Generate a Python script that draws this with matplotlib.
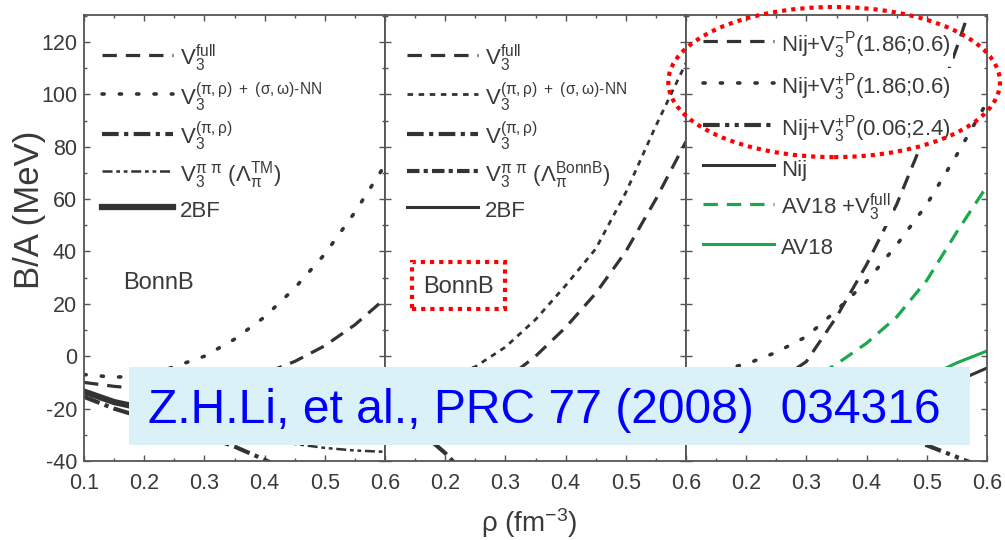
import matplotlib
matplotlib.use('Agg')
import matplotlib.pyplot as plt
from matplotlib.patches import Ellipse, Rectangle
from matplotlib.ticker import MultipleLocator

plt.rcParams['font.family'] = ['Liberation Sans', 'DejaVu Sans']
plt.rcParams['mathtext.fontset'] = 'custom'
plt.rcParams['mathtext.rm'] = 'Liberation Sans'
plt.rcParams['mathtext.it'] = 'Liberation Sans'
plt.rcParams['mathtext.bf'] = 'Liberation Sans:bold'
plt.rcParams['mathtext.default'] = 'regular'

# density grid (fm^-3)
rho = [0.1, 0.15, 0.2, 0.25, 0.3, 0.35, 0.4, 0.45, 0.5, 0.55, 0.6]

# left panel: BonnB, TM cut-off
left_full = [-10, -11.5, -12.5, -12.5, -11.5, -9.5, -6.5, -2, 4, 12, 22]
left_nn = [-7, -8, -7.5, -4, 0, 6.5, 15, 26, 39, 55, 73]
left_pr = [-15.5, -20, -23.5, -27, -30.5, -34.5, -39.5, -45, -51, -58, -65]
left_pp = [-14, -17, -20, -23, -26, -29, -31.5, -33.5, -35, -36, -36.5]
left_2bf = [-13.5, -17.5, -20, -22, -23.5, -24.5, -25, -25, -24.5, -23.5, -22]

# middle panel: BonnB, BonnB cut-off
mid_full = [-12, -15, -16, -14, -9, 0, 11, 24, 40, 60, 82]
mid_nn = [-8, -9, -8, -4, 3.5, 14, 27, 41, 62.5, 88, 112]
mid_pr = [-18, -27, -37, -49, -62, -76, -90, -105, -120, -136, -152]
mid_pp = [-16, -20, -24, -27, -29.5, -31, -32, -32.5, -32.5, -32, -31]
mid_2bf = [-13.5, -17.5, -20, -22, -23.5, -24.5, -25, -25, -24.5, -23.5, -22]

# right panel: Nijmegen and AV18
nij_minus = [-10, -12, -13, -10, -2, 15, 35, 58, 86, 118, 152]
nij_plus = [-7, -5.5, -3, 1.5, 7.5, 17.5, 28.5, 42.5, 58, 77, 97]
nij_plus2 = [-10, -13, -16, -19, -22, -24.5, -27, -30, -34, -38.5, -43]
nij_2bf = [-10, -13.5, -16.5, -19, -20.5, -21, -20.5, -18.5, -15, -9.5, -4.5]
av18_full = [-8, -11, -13, -13, -10, -3, 5, 15, 29, 47.5, 65]
av18_2bf = [-8, -12, -15, -17, -17.5, -17, -15, -12, -8, -2.5, 2]

xticks = [0.1, 0.2, 0.3, 0.4, 0.5, 0.6]
yticks = [-40, -20, 0, 20, 40, 60, 80, 100, 120]

dark = '#333333'
green = '#1aa84b'
txt = '#3a3a3a'

dashed = dict(color=dark, lw=2.3, ls=(0, (4.5, 2.8)))
dotted = dict(color=dark, lw=2.6, ls=(0, (0.6, 4.2)), dash_capstyle='round')

lab_nn = '$V_3^{(\\pi,\\rho)\\ +\\ (\\sigma,\\omega)\u2010NN}$'
lab_pr = r'$V_3^{(\pi,\rho)}$'

fig = plt.figure(figsize=(10.05, 5.4), dpi=100)
lefts = [0.0836, 0.3831, 0.6826]
axes = [fig.add_axes([l, 0.1463, 0.2995, 0.826]) for l in lefts]

ax = axes[0]
ax.plot(rho, left_full, label=r'$V_3^{full}$', **dashed)
ax.plot(rho, left_nn, label=lab_nn, **dotted)
ax.plot(rho, left_pr, color=dark, lw=3, ls=(0, (4, 1.3, 1, 1.3)), label=lab_pr)
ax.plot(rho, left_pp, color=dark, lw=1.8, ls=(0, (4, 1.5, 1.5, 1.5, 1.5, 1.5)),
        label=r'$V_3^{\pi\ \pi}\ (\Lambda_\pi^{TM})$')
ax.plot(rho, left_2bf, color=dark, lw=4.5, label='2BF')

ax = axes[1]
ax.plot(rho, mid_full, label=r'$V_3^{full}$', **dashed)
ax.plot(rho, mid_nn, color=dark, lw=2, ls=(0, (2, 2)), label=lab_nn)
ax.plot(rho, mid_pr, color=dark, lw=3, ls=(0, (4, 1.3, 1, 1.3)), label=lab_pr)
ax.plot(rho, mid_pp, color=dark, lw=3, ls=(0, (3, 1, 1, 1)),
        label=r'$V_3^{\pi\ \pi}\ (\Lambda_\pi^{BonnB})$')
ax.plot(rho, mid_2bf, color=dark, lw=2.2, label='2BF')

ax = axes[2]
ax.plot(rho, nij_minus, label=r'Nij+$V_3^{-P}$(1.86;0.6)', **dashed)
ax.plot(rho, nij_plus, label=r'Nij+$V_3^{+P}$(1.86;0.6)', **dotted)
ax.plot(rho, nij_plus2, color=dark, lw=3, ls=(0, (4, 1.3, 1, 1.3, 1, 1.3)),
        label=r'Nij+$V_3^{+P}$(0.06;2.4)')
ax.plot(rho, nij_2bf, color=dark, lw=2.2, label='Nij')
ax.plot(rho, av18_full, color=green, lw=2.3, ls=(0, (4.5, 2.8)), label=r'AV18 +$V_3^{full}$')
ax.plot(rho, av18_2bf, color=green, lw=2.2, label='AV18')

leg_pos = [(0.06, 0.937), (0.073, 0.937), (0.056, 0.968)]
leg_space = [0.26, 0.26, 0.45]
for i, ax in enumerate(axes):
    ax.set_xlim(0.1, 0.6)
    ax.set_ylim(-40, 130.3)
    ax.set_xticks(xticks)
    ax.set_yticks(yticks)
    if i == 0:
        ax.set_xticklabels([f'{v:.1f}' for v in xticks])
        ax.set_yticklabels([str(v) for v in yticks])
    else:
        ax.set_xticklabels([''] + [f'{v:.1f}' for v in xticks[1:]])
        ax.set_yticklabels([])
    ax.xaxis.set_minor_locator(MultipleLocator(0.05))
    ax.yaxis.set_minor_locator(MultipleLocator(10))
    ax.tick_params(which='both', direction='in', top=True, right=True,
                   color='#555555', labelcolor=txt, labelsize=15.5)
    ax.tick_params(which='major', length=4.3, width=1)
    ax.tick_params(axis='x', which='major', pad=8.5)
    ax.tick_params(axis='y', which='major', pad=5)
    ax.tick_params(which='minor', length=2.2, width=1)
    for s in ax.spines.values():
        s.set_color('#555555')
        s.set_linewidth(1.3)
    leg = ax.legend(loc='upper left', bbox_to_anchor=leg_pos[i], frameon=False,
                    fontsize=16, handlelength=3.2, handletextpad=0.3,
                    handleheight=1.5, labelspacing=leg_space[i], borderpad=0,
                    borderaxespad=0)
    for t in leg.get_texts():
        t.set_color(txt)
        if i == 2:
            # labels are opaque in the original, curves pass behind them
            t.set_bbox(dict(facecolor='white', edgecolor='none', pad=2))

axes[0].text(0.13, 0.386, 'BonnB', transform=axes[0].transAxes, fontsize=17, color=txt,
             va='baseline')
axes[1].text(0.126, 0.377, 'BonnB', transform=axes[1].transAxes, fontsize=17, color=txt,
             va='baseline')

fig.text(0.029, 0.612, 'B/A (MeV)', rotation=90, ha='center', va='center', fontsize=25,
         color=txt)
fig.text(0.527, 0.032, r'$\rho$ (fm$^{-3}$)', ha='center', va='center', fontsize=20, color=txt)

# citation banner and red highlight marks
fig.add_artist(Rectangle((0.1284, 0.1759), 0.8368, 0.1444, transform=fig.transFigure,
                         facecolor='#daf2f7', edgecolor='none'))
fig.text(0.147, 0.2167, 'Z.H.Li, et al., PRC 77 (2008)  034316', color='#0000ff',
         fontsize=34.6, va='baseline', ha='left')
fig.add_artist(Ellipse((0.830, 0.848), 0.330, 0.278, transform=fig.transFigure, fill=False,
                       edgecolor='red', lw=3, ls=(0, (1, 1.2))))
fig.add_artist(Rectangle((0.41, 0.4278), 0.0925, 0.087, transform=fig.transFigure,
                         fill=False, edgecolor='red', lw=3, ls=(0, (1, 1.2))))

fig.savefig('out.png', dpi=100)
